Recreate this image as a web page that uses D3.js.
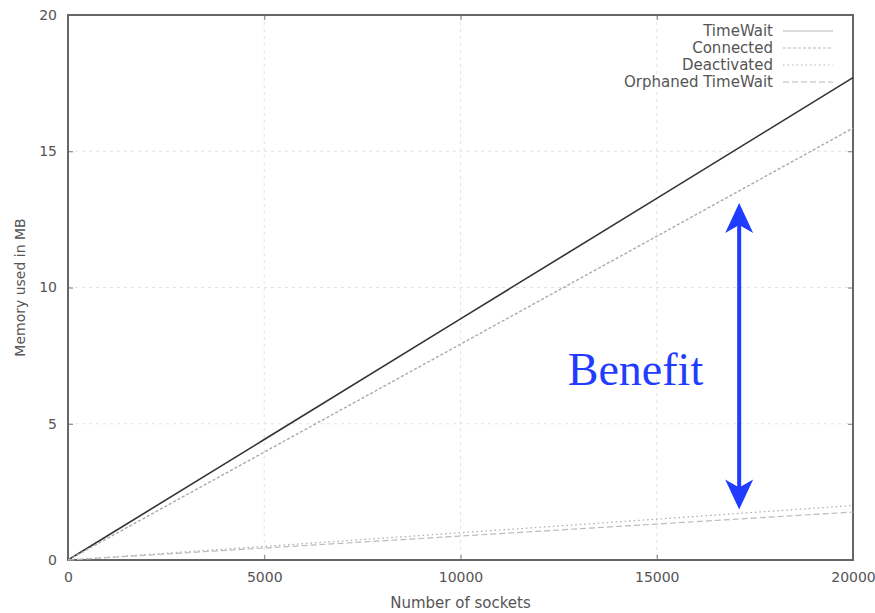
<!DOCTYPE html>
<html>
<head>
<meta charset="utf-8">
<script src="https://cdn.jsdelivr.net/npm/d3@7"></script>
<style>
  body { margin: 0; background: #fff; }
  svg { display: block; }
</style>
</head>
<body>
<div id="chart"></div>
<script>
// number of sockets sampled
var sockets = [0, 5000, 10000, 15000, 20000];
// memory used in MB per series
var timeWait   = [0, 4.42, 8.85, 13.27, 17.7];
var connected  = [0, 3.96, 7.92, 11.88, 15.85];
var deactivated = [0, 0.50, 1.00, 1.50, 2.00];
var orphaned   = [0, 0.44, 0.88, 1.32, 1.76];
var seriesNames = ["TimeWait", "Connected", "Deactivated", "Orphaned TimeWait"];
var xTicks = [0, 5000, 10000, 15000, 20000];
var yTicks = [0, 5, 10, 15, 20];
// benefit arrow, in data units
var arrowX = 17100, arrowTop = 13.1, arrowBottom = 1.85;

var margin = {top: 15, right: 22, bottom: 53, left: 68},
    width = 875 - margin.left - margin.right,
    height = 613 - margin.top - margin.bottom;

var font = "'DejaVu Sans', Verdana, sans-serif";

var svg = d3.select("#chart")
  .append("svg")
    .attr("width", 875)
    .attr("height", 613)
  .append("g")
    .attr("transform", "translate(" + margin.left + "," + margin.top + ")");

var x = d3.scaleLinear().domain([0, 20000]).range([0, width]);
var y = d3.scaleLinear().domain([0, 20]).range([height, 0]);

// grid
svg.append("g").selectAll("line")
  .data(xTicks.slice(1, -1))
  .enter().append("line")
    .attr("x1", function(d) { return x(d); })
    .attr("x2", function(d) { return x(d); })
    .attr("y1", 0).attr("y2", height)
    .attr("stroke", "#e2e2e2").attr("stroke-width", 1)
    .attr("stroke-dasharray", "3,4");
svg.append("g").selectAll("line")
  .data(yTicks.slice(1, -1))
  .enter().append("line")
    .attr("y1", function(d) { return y(d); })
    .attr("y2", function(d) { return y(d); })
    .attr("x1", 0).attr("x2", width)
    .attr("stroke", "#e2e2e2").attr("stroke-width", 1)
    .attr("stroke-dasharray", "3,4");

// axes (with mirrored ticks on top and right)
var xAxis = svg.append("g")
  .attr("transform", "translate(0," + height + ")")
  .call(d3.axisBottom(x).tickValues(xTicks).tickSize(-5).tickPadding(12).tickFormat(d3.format("d")));
var yAxis = svg.append("g")
  .call(d3.axisLeft(y).tickValues(yTicks).tickSize(-5).tickPadding(11));
var xTop = svg.append("g")
  .call(d3.axisTop(x).tickValues(xTicks).tickSize(-5).tickFormat(""));
var yRight = svg.append("g")
  .attr("transform", "translate(" + width + ",0)")
  .call(d3.axisRight(y).tickValues(yTicks).tickSize(-5).tickFormat(""));
[xAxis, yAxis, xTop, yRight].forEach(function(a) {
  a.select(".domain").remove();
  a.selectAll("line").attr("stroke", "#777");
  a.selectAll("text")
    .attr("fill", "#555")
    .style("font-family", font)
    .style("font-size", "14px");
});

// frame
svg.append("rect")
  .attr("x", 0).attr("y", 0)
  .attr("width", width).attr("height", height)
  .attr("fill", "none")
  .attr("stroke", "#666").attr("stroke-width", 2);

// titles
svg.append("text")
  .attr("x", width / 2).attr("y", height + 48)
  .attr("text-anchor", "middle")
  .attr("fill", "#555")
  .style("font-family", font)
  .style("font-size", "15px")
  .text("Number of sockets");
svg.append("text")
  .attr("transform", "translate(" + (-43) + "," + (height / 2) + ") rotate(-90)")
  .attr("text-anchor", "middle")
  .attr("fill", "#555")
  .style("font-family", font)
  .style("font-size", "14px")
  .text("Memory used in MB");

// series
var series = [
  {name: seriesNames[0], values: timeWait, color: "#333", width: 1.6, dash: null},
  {name: seriesNames[1], values: connected, color: "#aaa", width: 1.4, dash: "3,2"},
  {name: seriesNames[2], values: deactivated, color: "#aaa", width: 1.2, dash: "1.5,3"},
  {name: seriesNames[3], values: orphaned, color: "#bbb", width: 1.2, dash: "6,3"}
];

var line = d3.line()
  .x(function(d, i) { return x(sockets[i]); })
  .y(function(d) { return y(d); });

svg.append("g").selectAll("path")
  .data(series)
  .enter().append("path")
    .attr("d", function(d) { return line(d.values); })
    .attr("fill", "none")
    .attr("stroke", function(d) { return d.color; })
    .attr("stroke-width", function(d) { return d.width; })
    .attr("stroke-dasharray", function(d) { return d.dash; });

// legend
var legend = svg.append("g")
  .attr("transform", "translate(" + (width - 80) + ",16)");
var rows = legend.selectAll("g")
  .data(series)
  .enter().append("g")
    .attr("transform", function(d, i) { return "translate(0," + (i * 17) + ")"; });
rows.append("text")
  .attr("x", 0).attr("y", 0)
  .attr("dy", "0.35em")
  .attr("text-anchor", "end")
  .attr("fill", "#555")
  .style("font-family", font)
  .style("font-size", "15px")
  .text(function(d) { return d.name; });
rows.append("line")
  .attr("x1", 10).attr("x2", 60)
  .attr("y1", 0).attr("y2", 0)
  .attr("stroke", "#cfcfcf")
  .attr("stroke-width", 1.4)
  .attr("stroke-dasharray", function(d) { return d.dash; });

// benefit annotation
var blue = "#1f3cff";
var ax = x(arrowX), ay1 = y(arrowTop), ay2 = y(arrowBottom);
svg.append("line")
  .attr("x1", ax).attr("x2", ax)
  .attr("y1", ay1 + 20).attr("y2", ay2 - 20)
  .attr("stroke", blue).attr("stroke-width", 4);
svg.append("path")
  .attr("d", "M" + ax + "," + ay1 + " L" + (ax + 14) + "," + (ay1 + 30) +
             " L" + ax + "," + (ay1 + 22) + " L" + (ax - 14) + "," + (ay1 + 30) + "Z")
  .attr("fill", blue);
svg.append("path")
  .attr("d", "M" + ax + "," + ay2 + " L" + (ax + 14) + "," + (ay2 - 30) +
             " L" + ax + "," + (ay2 - 22) + " L" + (ax - 14) + "," + (ay2 - 30) + "Z")
  .attr("fill", blue);
svg.append("text")
  .attr("x", ax - 36).attr("y", 385 - margin.top)
  .attr("text-anchor", "end")
  .attr("fill", blue)
  .style("font-family", "'Liberation Serif', 'Times New Roman', serif")
  .style("font-size", "46px")
  .text("Benefit");
</script>
</body>
</html>
